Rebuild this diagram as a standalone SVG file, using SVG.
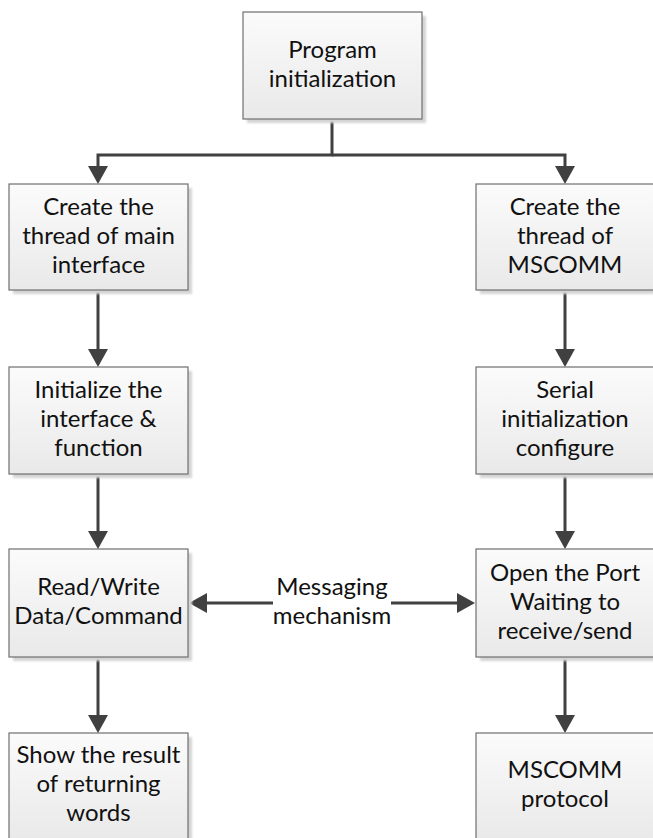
<svg xmlns="http://www.w3.org/2000/svg" width="653" height="838" viewBox="0 0 653 838">
  <defs>
    <linearGradient id="boxFill" x1="0" y1="0" x2="0" y2="1">
      <stop offset="0" stop-color="#fbfbfb"/>
      <stop offset="1" stop-color="#e9e9e9"/>
    </linearGradient>
    <filter id="shadow" x="-10%" y="-10%" width="130%" height="130%">
      <feGaussianBlur stdDeviation="1.2"/>
    </filter>
    <marker id="head" viewBox="0 0 18 20" refX="10" refY="10" markerWidth="18" markerHeight="20" markerUnits="userSpaceOnUse" orient="auto">
      <path d="M0,0 L18,10 L0,20 z" fill="#404040"/>
    </marker>
  </defs>
  <style>
    .shade { fill: #d4d4d4; filter: url(#shadow); }
    .box { fill: url(#boxFill); stroke: #6f6f6f; stroke-width: 1.2; }
    .label { font-family: Lato, "Liberation Sans", sans-serif; font-size: 24px; fill: #111; text-anchor: middle; }
    .wire { fill: none; stroke: #404040; stroke-width: 3; stroke-linejoin: miter; }
    .wire.arrow { marker-end: url(#head); }
  </style>

  <rect width="653" height="838" fill="#ffffff"/>

  <!-- connectors -->
  <g id="connectors">
    <path class="wire arrow" d="M332,119 V155 H98 V176"/>
    <path class="wire arrow" d="M332,155 H565 V176"/>
    <path class="wire arrow" d="M98,290 V359"/>
    <path class="wire arrow" d="M98,474 V541"/>
    <path class="wire arrow" d="M98,657 V725"/>
    <path class="wire arrow" d="M565,290 V359"/>
    <path class="wire arrow" d="M565,474 V541"/>
    <path class="wire arrow" d="M565,657 V725"/>
    <path class="wire arrow" d="M273,603 H197"/>
    <path class="wire arrow" d="M391,603 H467"/>
    <text class="label" x="332" y="595">Messaging</text>
    <text class="label" x="332" y="624">mechanism</text>
  </g>

  <!-- start -->
  <g id="program-init">
    <rect class="shade" x="247" y="16" width="179" height="107"/>
    <rect class="box" x="243" y="12" width="179" height="107"/>
    <text class="label" x="332.5" y="58">Program</text>
    <text class="label" x="332.5" y="87">initialization</text>
  </g>

  <!-- left column: main interface thread -->
  <g id="main-thread">
    <rect class="shade" x="13" y="188" width="179" height="106"/>
    <rect class="box" x="9" y="184" width="179" height="106"/>
    <text class="label" x="98.5" y="215">Create the</text>
    <text class="label" x="98.5" y="244">thread of main</text>
    <text class="label" x="98.5" y="273">interface</text>
  </g>

  <g id="init-interface">
    <rect class="shade" x="13" y="371" width="179" height="107"/>
    <rect class="box" x="9" y="367" width="179" height="107"/>
    <text class="label" x="98.5" y="398">Initialize the</text>
    <text class="label" x="98.5" y="427">interface &amp;</text>
    <text class="label" x="98.5" y="456">function</text>
  </g>

  <g id="read-write">
    <rect class="shade" x="13" y="553" width="179" height="108"/>
    <rect class="box" x="9" y="549" width="179" height="108"/>
    <text class="label" x="98.5" y="595">Read/Write</text>
    <text class="label" x="98.5" y="624">Data/Command</text>
  </g>

  <g id="show-result">
    <rect class="shade" x="13" y="737" width="179" height="107"/>
    <rect class="box" x="9" y="733" width="179" height="107"/>
    <text class="label" x="98.5" y="763">Show the result</text>
    <text class="label" x="98.5" y="792">of returning</text>
    <text class="label" x="98.5" y="821">words</text>
  </g>

  <!-- right column: MSCOMM thread -->
  <g id="mscomm-thread">
    <rect class="shade" x="480" y="188" width="179" height="106"/>
    <rect class="box" x="476" y="184" width="179" height="106"/>
    <text class="label" x="565" y="215">Create the</text>
    <text class="label" x="565" y="244">thread of</text>
    <text class="label" x="565" y="273">MSCOMM</text>
  </g>

  <g id="serial-init">
    <rect class="shade" x="480" y="371" width="179" height="107"/>
    <rect class="box" x="476" y="367" width="179" height="107"/>
    <text class="label" x="565" y="398">Serial</text>
    <text class="label" x="565" y="427">initialization</text>
    <text class="label" x="565" y="456">configure</text>
  </g>

  <g id="open-port">
    <rect class="shade" x="480" y="553" width="179" height="108"/>
    <rect class="box" x="476" y="549" width="179" height="108"/>
    <text class="label" x="565" y="581">Open the Port</text>
    <text class="label" x="565" y="610">Waiting to</text>
    <text class="label" x="565" y="639">receive/send</text>
  </g>

  <g id="mscomm-protocol">
    <rect class="shade" x="480" y="737" width="179" height="107"/>
    <rect class="box" x="476" y="733" width="179" height="107"/>
    <text class="label" x="565" y="778">MSCOMM</text>
    <text class="label" x="565" y="807">protocol</text>
  </g>
</svg>
